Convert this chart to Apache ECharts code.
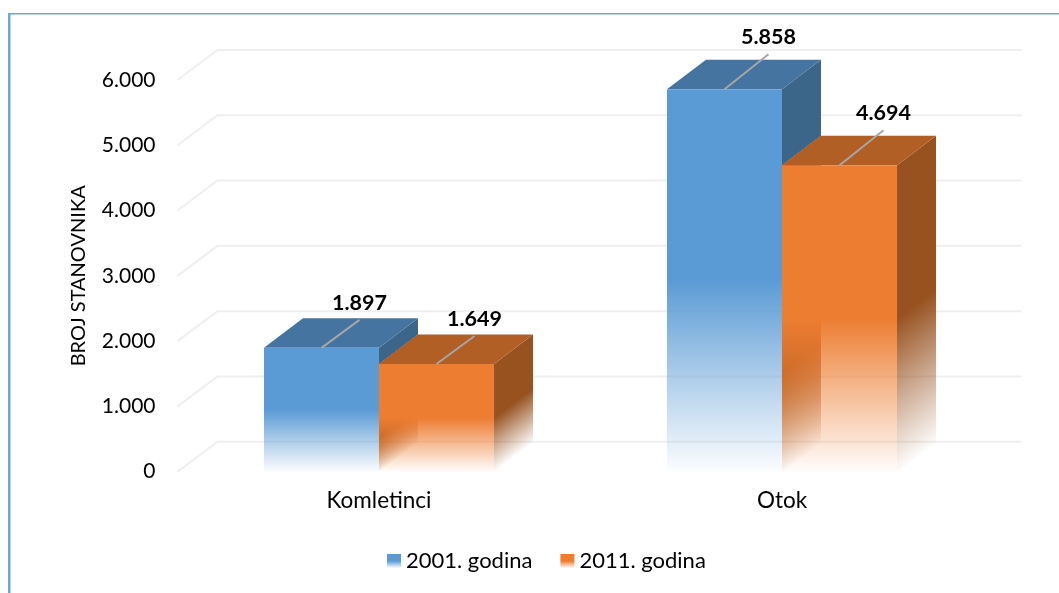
<!DOCTYPE html>
<html>
<head>
<meta charset="utf-8">
<style>
    html, body { margin: 0; padding: 0; background: #fff; }
    #chart { width: 1059px; height: 593px; }
</style>
<script src="https://cdn.jsdelivr.net/npm/echarts@6/dist/echarts.min.js"></script>
</head>
<body>
<div id="chart"></div>
<script>
// podaci
const categories = ['Komletinci', 'Otok']
const years = ['2001. godina', '2011. godina']
const values2001 = [1897, 5858]
const values2011 = [1649, 4694]
const labels2001 = ['1.897', '5.858']
const labels2011 = ['1.649', '4.694']
const tickValues = [0, 1000, 2000, 3000, 4000, 5000, 6000]
const tickLabels = ['0', '1.000', '2.000', '3.000', '4.000', '5.000', '6.000']
const axisTitle = 'BROJ STANOVNIKA'

// 3d look
const FONT = 'Lato'
const BAR_RATIO = 0.2854
const DEPTH_X = 39
const DEPTH_Y = 29.5
const WALL_X = 40
const WALL_Y = 30
const LEADER_RUN = [38, 44]
const LEADER_RISE = [28, 35]

function stops(r, g, b, solid) {
    return [
        { offset: 0, color: `rgba(${r},${g},${b},1)` },
        { offset: solid, color: `rgba(${r},${g},${b},1)` },
        { offset: (solid + 1) / 2, color: `rgba(${r},${g},${b},0.5)` },
        { offset: 1, color: `rgba(${r},${g},${b},0.02)` }
    ]
}

function fade(rgb) {
    return { type: 'linear', x: 0, y: 0, x2: 0, y2: 1, colorStops: stops(rgb[0], rgb[1], rgb[2], 0.5) }
}

// same fade but tilted, so it runs parallel to the floor edge of a side wall
function skewFade(rgb, x, yTop, yBase, solid) {
    let k = (yBase - yTop) * DEPTH_X / (DEPTH_Y * DEPTH_Y + DEPTH_X * DEPTH_X)
    return {
        type: 'linear', global: true,
        x: x, y: yTop, x2: x + DEPTH_Y * k, y2: yTop + DEPTH_X * k,
        colorStops: stops(rgb[0], rgb[1], rgb[2], solid)
    }
}

function poly(points, fill) {
    return { type: 'polygon', shape: { points }, style: { fill }, silent: true }
}

function barRenderer(opts) {
    return function (params, api) {
        let idx = api.value(0)
        let top = api.coord([idx, api.value(1)])
        let base = api.coord([idx, 0])
        let w = api.size([1, 0])[0] * BAR_RATIO
        let x0 = opts.first ? top[0] - w : top[0]
        let x1 = x0 + w
        let y = top[1]
        let yb = base[1]
        let sideBase = opts.sideStop ? api.coord([idx, opts.sideStop[idx]])[1] : yb
        let children = []

        // inner left wall seen through the fading front
        if (opts.wall) {
            children.push(poly([[x0, y], [x0 + DEPTH_X, y - DEPTH_Y], [x0 + DEPTH_X, yb - DEPTH_Y], [x0, yb]], skewFade(opts.wall, x0, y, yb, 0.68)))
        }
        let sideFill = opts.wall ? skewFade(opts.wall, x1, y, yb, 0.5) : opts.side
        children.push(poly([[x1, y], [x1 + DEPTH_X, y - DEPTH_Y], [x1 + DEPTH_X, sideBase - DEPTH_Y], [x1, sideBase]], sideFill))
        children.push(poly([[x0, y], [x0 + DEPTH_X, y - DEPTH_Y], [x1 + DEPTH_X, y - DEPTH_Y], [x1, y]], opts.top))
        children.push({ type: 'rect', shape: { x: x0, y: y, width: w, height: yb - y }, style: { fill: opts.front }, silent: true })

        // leader line and the value
        let cx = x0 + w / 2
        let ex = cx + LEADER_RUN[idx]
        let ey = y - LEADER_RISE[idx]
        children.push({
            type: 'line',
            shape: { x1: cx, y1: y, x2: ex, y2: ey },
            style: { stroke: '#a6a6a6', lineWidth: 2 },
            silent: true
        })
        children.push({
            type: 'text',
            style: {
                x: ex, y: ey - 17, text: opts.labels[idx], fill: '#000',
                font: `bold 21.5px ${FONT}`, textAlign: 'center', textVerticalAlign: 'middle'
            },
            silent: true
        })
        return { type: 'group', children }
    }
}

// back wall lines, they start at the axis and run along the wall
function wallRenderer(params, api) {
    let p = api.coord([0, api.value(0)])
    let left = p[0] - api.size([1, 0])[0] / 2
    let right = left + api.size([1, 0])[0] * categories.length
    let pts = [[left, p[1]], [left + WALL_X, p[1] - WALL_Y], [right + WALL_X - 2, p[1] - WALL_Y]]
    return {
        type: 'polyline',
        shape: { points: pts },
        style: { stroke: '#efefef', lineWidth: 2, fill: 'none' },
        silent: true
    }
}

const BLUE = [91, 155, 213]
const ORANGE = [237, 125, 49]
const BROWN = [151, 82, 32]

let chart = echarts.init(document.getElementById('chart'), null, { renderer: 'canvas' })
chart.setOption({
    animation: false,
    backgroundColor: '#fff',
    textStyle: { fontFamily: FONT, color: '#000' },
    graphic: [
        { type: 'rect', shape: { x: 8, y: 13, width: 1051, height: 1.5 }, style: { fill: '#6fa5da' }, silent: true },
        { type: 'rect', shape: { x: 8, y: 13, width: 2.5, height: 580 }, style: { fill: '#6fa5da' }, silent: true }
    ],
    grid: { left: 177.5, right: 75.5, top: 80, bottom: 121.3 },
    legend: {
        left: 382, top: 545,
        itemWidth: 14, itemHeight: 14, itemGap: 28,
        textStyle: { fontFamily: FONT, fontSize: 22, color: '#000' },
        selectedMode: false,
        data: [
            { name: years[0], icon: 'rect', itemStyle: { color: fade(BLUE) } },
            { name: years[1], icon: 'rect', itemStyle: { color: fade(ORANGE) } }
        ]
    },
    xAxis: {
        type: 'category',
        data: categories,
        axisLine: { show: false },
        axisTick: { show: false },
        axisLabel: { fontFamily: FONT, fontSize: 22.5, color: '#000', margin: 18 }
    },
    yAxis: {
        type: 'value',
        min: 0, max: 6000, interval: 1000,
        name: axisTitle,
        nameLocation: 'middle',
        nameGap: 89,
        nameTextStyle: { fontFamily: FONT, fontSize: 20, color: '#000' },
        axisLine: { show: false },
        axisTick: { show: false },
        splitLine: { show: false },
        axisLabel: {
            fontFamily: FONT, fontSize: 21, color: '#000', margin: 22,
            formatter: v => tickLabels[tickValues.indexOf(v)]
        }
    },
    series: [
        {
            type: 'custom',
            silent: true,
            data: tickValues.map(v => [v]),
            encode: { y: 0 },
            renderItem: wallRenderer
        },
        {
            type: 'custom',
            name: years[0],
            itemStyle: { color: '#5b9bd5' },
            data: categories.map((c, i) => [i, values2001[i]]),
            encode: { x: 0, y: 1 },
            renderItem: barRenderer({
                first: true,
                labels: labels2001,
                sideStop: values2011,
                front: fade(BLUE),
                top: '#44749f',
                side: '#3b6589'
            })
        },
        {
            type: 'custom',
            name: years[1],
            itemStyle: { color: '#ed7d31' },
            data: categories.map((c, i) => [i, values2011[i]]),
            encode: { x: 0, y: 1 },
            renderItem: barRenderer({
                first: false,
                labels: labels2011,
                front: fade(ORANGE),
                top: '#b15f25',
                wall: BROWN
            })
        }
    ]
})
</script>
</body>
</html>
